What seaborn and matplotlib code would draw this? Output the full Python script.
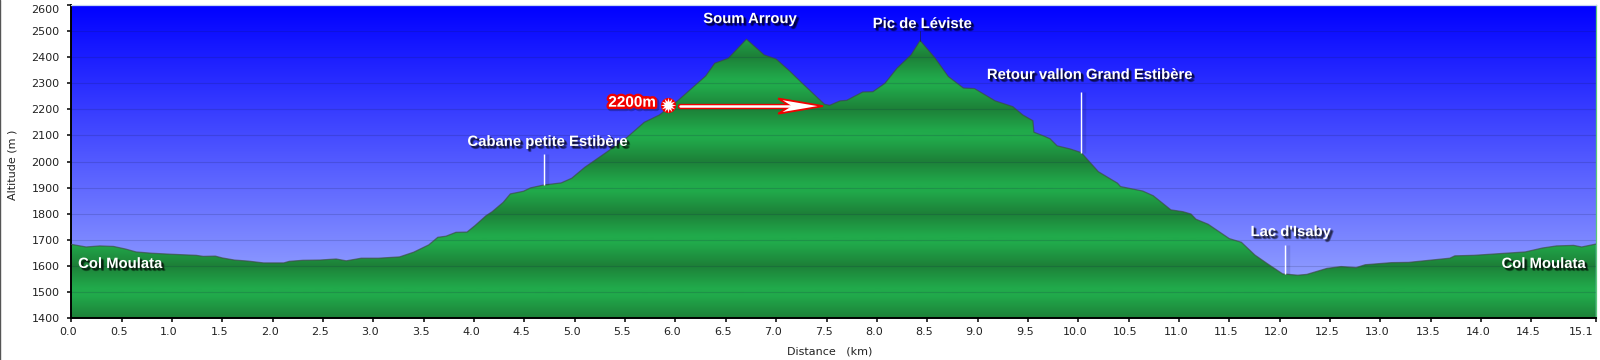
import numpy as np
import pandas as pd
import matplotlib
matplotlib.use('Agg')
import matplotlib.pyplot as plt
import matplotlib.patheffects as pe
from matplotlib.patches import Polygon
from matplotlib.lines import Line2D
from matplotlib.transforms import ScaledTranslation
import seaborn as sns

# profile
distance_km = [0, .147, .284, .42, .54, .643, .8, 1.0, 1.24, 1.31, 1.43, 1.5, 1.62, 1.755, 1.91, 2.11, 2.165, 2.3,
               2.47, 2.63, 2.73, 2.88, 3.05, 3.26, 3.4, 3.55, 3.64, 3.72, 3.82, 3.93, 4.01, 4.12, 4.18, 4.29, 4.36,
               4.49, 4.56, 4.69, 4.865, 4.97, 5.1, 5.31, 5.515, 5.69, 5.84, 6.03, 6.30, 6.39, 6.525, 6.705, 6.88,
               7.0, 7.14, 7.26, 7.48, 7.53, 7.635, 7.70, 7.86, 7.96, 8.08, 8.2, 8.34, 8.43, 8.58, 8.71, 8.86, 8.97,
               9.175, 9.35, 9.45, 9.55, 9.56, 9.655, 9.72, 9.79, 9.92, 10.03, 10.2, 10.39, 10.42, 10.64, 10.745,
               10.92, 11.04, 11.12, 11.17, 11.29, 11.5, 11.62, 11.755, 11.875, 12.03, 12.18, 12.27, 12.47, 12.61,
               12.76, 12.85, 13.11, 13.28, 13.69, 13.74, 13.93, 14.44, 14.61, 14.75, 14.92, 15.0, 15.14]
altitude_m = [1683, 1673, 1677, 1675, 1665, 1654, 1649, 1645, 1641, 1637, 1638, 1631, 1623, 1619, 1612, 1612, 1618, 1622,
              1623, 1627, 1620, 1630, 1630, 1635, 1653, 1681, 1710, 1714, 1729, 1730, 1755, 1793, 1808, 1844, 1876,
              1886, 1899, 1910, 1918, 1936, 1978, 2034, 2091, 2150, 2178, 2235, 2327, 2376, 2395, 2468, 2408,
              2392, 2344, 2299, 2219, 2215, 2232, 2234, 2266, 2267, 2299, 2357, 2408, 2463, 2395, 2325, 2281, 2279,
              2232, 2210, 2178, 2156, 2112, 2098, 2087, 2060, 2048, 2034, 1961, 1917, 1904, 1887, 1869,
              1815, 1808, 1799, 1779, 1760, 1705, 1691, 1642, 1610, 1570, 1565, 1568, 1591, 1598,
              1594, 1605, 1613, 1614, 1630, 1639, 1641, 1654, 1669, 1677, 1679, 1673, 1684]

x_ticks = [i * 0.5 for i in range(30)] + [15.14]
x_tick_labels = ['%.1f' % t for t in x_ticks]
y_ticks = list(range(1400, 2700, 100))

place_names = ['Col Moulata', 'Cabane petite Estibère', 'Soum Arrouy', 'Pic de Léviste',
               'Retour vallon Grand Estibère', "Lac d'Isaby", 'Col Moulata']
place_km = [0.484, 4.726, 6.74, 8.45, 10.11, 12.11, 14.62]
place_alt = [1608, 2075, 2545, 2526, 2331, 1730, 1608]

# white stems under some of the labels
stem_km = [4.69, 10.03, 12.05]
stem_top = [2027, 2265, 1680]
stem_bottom = [1910, 2031, 1570]

profile = pd.DataFrame({'distance': distance_km, 'altitude': altitude_m})

sns.set_style('white')
plt.rcParams['font.family'] = ['DejaVu Sans']

fig = plt.figure(figsize=(16, 3.6), dpi=100, facecolor='white')
W, H = 1600.0, 360.0
left, right, top, bottom = 71.3, 1595.8, 4.7, 318.3
ax = fig.add_axes([left / W, 1 - bottom / H, (right - left) / W, (bottom - top) / H])

# sky gradient
t = np.linspace(0, 1, 400)[:, None]
sky = np.dstack([165 / 255 * t, 180 / 255 * t, np.ones_like(t)])
ax.imshow(sky, extent=[0, 15.14, 1400, 2600], aspect='auto', origin='upper', zorder=0)

# green bands, dark on even hundreds
levels = np.arange(1400, 2601, 2)
shade = np.interp((levels - 1400) % 200, [0, 85, 115, 200], [0, 1, 1, 0])
dark = np.array([29, 128, 56]) / 255
bright = np.array([33, 170, 75]) / 255
green = dark + shade[:, None] * (bright - dark)
im = ax.imshow(green[:, None, :], extent=[0, 15.14, 1400, 2600], aspect='auto', origin='lower', zorder=1)
area = ax.fill_between(profile['distance'], profile['altitude'], 1400, color='none', zorder=1)
im.set_clip_path(area.get_paths()[0], transform=ax.transData)

for y in y_ticks[1:-1]:
    ax.axhline(y, color='#101840', alpha=0.16, lw=0.8, zorder=2)

sns.lineplot(data=profile, x='distance', y='altitude', ax=ax, color='#3c4a40', alpha=0.65, lw=0.9, zorder=3,
             estimator=None, sort=False)

ax.set_xlim(0, 15.14)
ax.set_ylim(1400, 2600)
ax.set_xticks(x_ticks)
ax.set_xticklabels(x_tick_labels)
ax.set_yticks(y_ticks)
ax.tick_params(axis='both', direction='out', length=3, width=1.1, color='black', labelsize=8,
               labelcolor='#222222', left=True, bottom=True)
ax.tick_params(axis='x', pad=3)
ax.tick_params(axis='y', pad=5.5)

ax.set_xlabel('Distance   (km)', fontsize=8, color='#222222', va='center')
ax.set_ylabel('Altitude (m )', fontsize=8, color='#222222', va='center')
ax.xaxis.set_label_coords((829.6 - left) / (right - left), -(351 - bottom) / (bottom - top))
ax.yaxis.set_label_coords((12.4 - left) / (right - left), (bottom - 165) / (bottom - top))

# the original tick labels sit a bit left of their ticks
for i, lab in enumerate(ax.get_xticklabels()):
    dx = -14.5 if i == len(x_ticks) - 1 else -3
    lab.set_transform(lab.get_transform() + ScaledTranslation(dx / 100, 0, fig.dpi_scale_trans))
ax.get_yticklabels()[-1].set_transform(ax.get_yticklabels()[-1].get_transform()
                                       + ScaledTranslation(0, -4 / 100, fig.dpi_scale_trans))

for name in ['left', 'bottom']:
    ax.spines[name].set_color('black')
    ax.spines[name].set_linewidth(1.4)
ax.spines['top'].set_color('#c4d4f2')
ax.spines['top'].set_linewidth(0.9)
ax.spines['right'].set_color('#58c878')
ax.spines['right'].set_linewidth(0.9)

# soft dark shadow behind the bold labels, a few offset copies stand in for the blur
shadow = [pe.SimplePatchShadow(offset=o, shadow_rgbFace='black', alpha=0.2)
          for o in [(1.0, -1.0), (1.6, -1.0), (1.0, -1.6), (1.6, -1.6), (2.2, -1.6), (1.6, -2.2), (2.2, -2.2)]]
shadow.append(pe.Normal())

for name, km, alt in zip(place_names, place_km, place_alt):
    ax.text(km, alt, name, color='white', fontsize=10.7, fontweight='bold', family='Liberation Sans',
            ha='center', va='center', path_effects=shadow, zorder=6)

for km, a, b in zip(stem_km, stem_top, stem_bottom):
    ax.plot([km + 0.03, km + 0.03], [a, b], color='black', alpha=0.1, lw=2.5, zorder=4, solid_capstyle='butt')
    ax.plot([km, km], [a, b], color='white', lw=1.0, zorder=5, solid_capstyle='butt')
ax.plot([8.43, 8.43], [2463, 2498], color='#1a2030', lw=0.7, alpha=0.6, zorder=4)

# 2200m marker and arrow
ax.text(5.57, 2225, '2200m', color='white', fontsize=11, fontweight='bold', family='Liberation Sans',
        ha='center', va='center', zorder=8,
        path_effects=[pe.Stroke(linewidth=4, foreground='black', alpha=0.25, offset=(1.2, -1.2)),
                      pe.Stroke(linewidth=3.4, foreground='#f00000'), pe.Normal()])
ax.scatter([5.925], [2215], marker='o', s=120, color='#f00000', linewidth=0, zorder=8)
ax.scatter([5.925], [2215], marker=(12, 1, 0), s=120, color='white', linewidth=0, zorder=9)
ax.plot([6.05, 7.12], [2212, 2212], color='#f00000', lw=3.8, zorder=7, solid_capstyle='round')
ax.add_patch(Polygon([(7.465, 2212), (7.02, 2241), (7.14, 2212), (7.02, 2183)], closed=True, facecolor='white',
                     edgecolor='#f00000', lw=1.3, joinstyle='miter', zorder=8))
ax.plot([6.05, 7.16], [2212, 2212], color='white', lw=1.8, zorder=9, solid_capstyle='round')

# thin grey edge of the screenshot
fig.add_artist(Line2D([0.0003, 0.0003], [0, 1], color='#555555', lw=1.0, transform=fig.transFigure))

fig.savefig('out.png', dpi=100)
